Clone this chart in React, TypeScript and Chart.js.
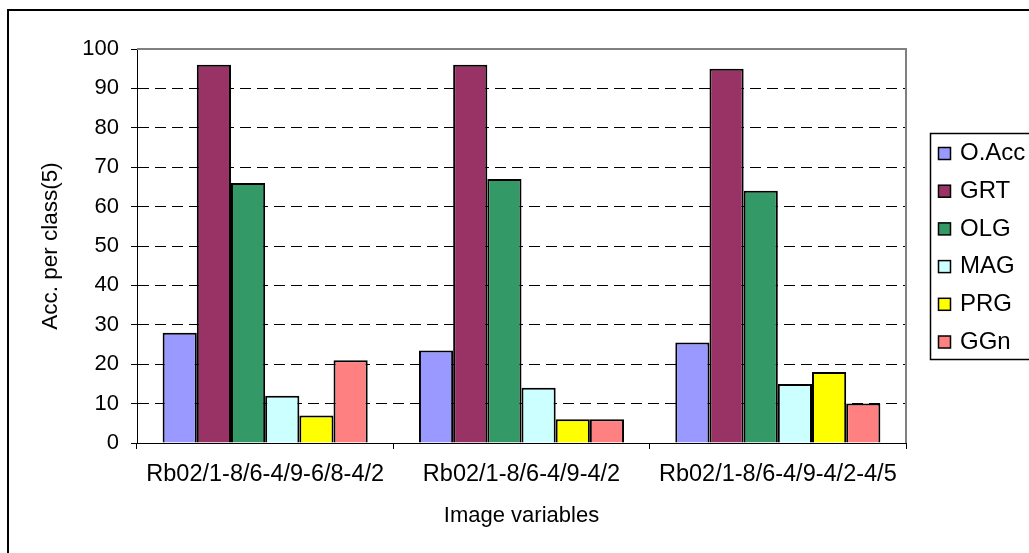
import React, { useEffect, useRef } from "react";
import { Chart, registerables } from "chart.js";

Chart.register(...registerables);

const categories = ["Rb02/1-8/6-4/9-6/8-4/2", "Rb02/1-8/6-4/9-4/2", "Rb02/1-8/6-4/9-4/2-4/5"];
const seriesNames = ["O.Acc", "GRT", "OLG", "MAG", "PRG", "GGn"];
const oAccValues = [28, 23.5, 25.5];
const grtValues = [96, 96, 95];
const olgValues = [66, 67, 64];
const magValues = [12, 14, 15];
const prgValues = [7, 6, 18];
const ggnValues = [21, 6, 10];
const seriesColors = ["#9999FF", "#993366", "#339966", "#CCFFFF", "#FFFF00", "#FF8080"];
const yMin = 0;
const yMax = 100;
const yStep = 10;
const yTitle = "Acc. per class(5)";
const xTitle = "Image variables";

const FONT = "'Liberation Sans', Arial, Helvetica, sans-serif";
const W = 1029;
const H = 553;

const framePlugin = {
  id: "frame",
  beforeDraw(chart: any) {
    const ctx = chart.ctx;
    ctx.save();
    ctx.strokeStyle = "#000";
    ctx.lineWidth = 2;
    ctx.beginPath();
    ctx.moveTo(8, H + 5);
    ctx.lineTo(8, 10);
    ctx.lineTo(W + 5, 10);
    ctx.stroke();
    ctx.restore();
  },
  afterDraw(chart: any) {
    const ctx = chart.ctx;
    const a = chart.chartArea;
    ctx.save();
    ctx.strokeStyle = "#808080";
    ctx.lineWidth = 2;
    ctx.beginPath();
    ctx.moveTo(a.left, a.top);
    ctx.lineTo(a.right, a.top);
    ctx.lineTo(a.right, a.bottom);
    ctx.stroke();

    const boxLeft = 930.5;
    const boxTop = 133.5;
    const boxBottom = 359.5;
    ctx.strokeStyle = "#000";
    ctx.lineWidth = 1.5;
    ctx.strokeRect(boxLeft, boxTop, W + 20 - boxLeft, boxBottom - boxTop);
    const firstRow = 153.5;
    const rowStep = 37.7;
    ctx.font = `24px ${FONT}`;
    ctx.textBaseline = "middle";
    ctx.textAlign = "left";
    chart.data.datasets.forEach((ds: any, i: number) => {
      const cy = firstRow + i * rowStep;
      ctx.fillStyle = ds.backgroundColor;
      ctx.fillRect(938.5, cy - 6, 12, 12);
      ctx.strokeStyle = "#000";
      ctx.lineWidth = 1.5;
      ctx.strokeRect(938.5, cy - 6, 12, 12);
      ctx.fillStyle = "#000";
      ctx.fillText(ds.label, 960, cy);
    });
    ctx.restore();
  },
};

export default function App() {
  const canvasRef = useRef<HTMLCanvasElement | null>(null);

  useEffect(() => {
    const canvas = canvasRef.current;
    if (!canvas) return;
    const allValues = [oAccValues, grtValues, olgValues, magValues, prgValues, ggnValues];
    const chart = new Chart(canvas, {
      type: "bar",
      data: {
        labels: categories,
        datasets: seriesNames.map((name, i) => ({
          label: name,
          data: allValues[i],
          backgroundColor: seriesColors[i],
          borderColor: "#000",
          borderWidth: 2,
          categoryPercentage: 0.8,
          barPercentage: 1.0,
        })),
      },
      options: {
        responsive: false,
        devicePixelRatio: 1,
        animation: false,
        layout: { padding: { top: 49, right: W - 906, bottom: 0, left: 0 } },
        plugins: {
          legend: { display: false },
          tooltip: { enabled: false },
        },
        scales: {
          x: {
            offset: true,
            grid: {
              display: true,
              drawOnChartArea: false,
              drawTicks: true,
              tickLength: 6,
              offset: true,
              tickColor: "#000",
              tickWidth: 1,
            },
            border: { display: true, color: "#000", width: 1 },
            ticks: {
              color: "#000",
              font: { family: FONT, size: 23.5 },
              padding: 11,
              maxRotation: 0,
              autoSkip: false,
            },
            title: {
              display: true,
              text: xTitle,
              color: "#000",
              font: { family: FONT, size: 22 },
              padding: { top: 0, bottom: 24 },
            },
            afterFit(scale: any) {
              scale.height = H - 443;
            },
          },
          y: {
            min: yMin,
            max: yMax,
            grid: {
              display: true,
              drawOnChartArea: true,
              drawTicks: true,
              tickLength: 6,
              color: (c: any) =>
                c.tick && (c.tick.value === yMin || c.tick.value === yMax) ? "rgba(0,0,0,0)" : "#000",
              tickColor: "#000",
              tickWidth: 1,
              lineWidth: 1,
            },
            border: { display: true, color: "#000", width: 1, dash: [11, 6] },
            ticks: {
              stepSize: yStep,
              color: "#000",
              font: { family: FONT, size: 22 },
              padding: 12,
            },
            title: {
              display: true,
              text: yTitle,
              color: "#000",
              font: { family: FONT, size: 22.5 },
              padding: { top: 37, bottom: 0 },
            },
            afterFit(scale: any) {
              scale.width = 137;
            },
          },
        },
      },
      plugins: [framePlugin],
    } as any);
    return () => chart.destroy();
  }, []);

  return (
    <div style={{ position: "absolute", left: 0, top: 0, width: W, height: H }}>
      <canvas ref={canvasRef} width={W} height={H} style={{ display: "block" }} />
    </div>
  );
}
